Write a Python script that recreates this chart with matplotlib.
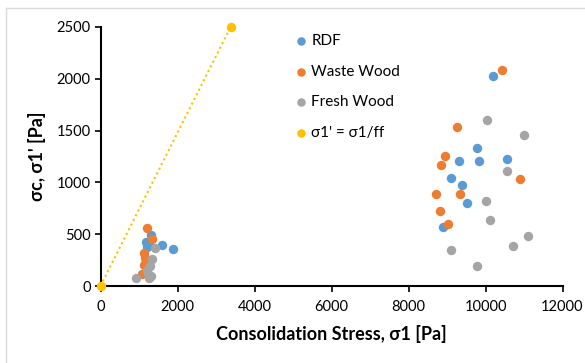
import matplotlib
matplotlib.use("Agg")
import matplotlib.pyplot as plt
from matplotlib.lines import Line2D

plt.rcParams['font.family'] = ['Lato', 'DejaVu Sans']

# Consolidation stress (x) and unconfined yield strength (y), in Pa
rdf_x = [1180, 1320, 1600, 1880, 1220, 1250,
         10206, 9780, 9315, 9819, 10546, 9092, 9402, 9509, 8898]
rdf_y = [420, 497, 395, 356, 375, 400,
         2024, 1335, 1203, 1207, 1229, 1042, 972, 804, 573]

waste_x = [1200, 1350, 1140, 1160, 1180, 1070, 1120,
           10430, 9247, 8946, 8840, 10885, 8723, 9334, 8830, 9034]
waste_y = [560, 457, 318, 272, 235, 113, 200,
           2082, 1538, 1252, 1171, 1030, 891, 891, 724, 595]

fresh_x = [930, 1270, 1200, 1290, 1350, 1410, 1230, 1300, 1250,
           10051, 11011, 10565, 10022, 10119, 11108, 10720, 9111, 9780]
fresh_y = [78, 92, 150, 190, 265, 362, 120, 100, 80,
           1602, 1454, 1107, 820, 637, 479, 383, 344, 193]

# Flow-function reference line sigma1' = sigma1/ff
ff_x = [0, 3380]
ff_y = [0, 2500]

x_ticks = [0, 2000, 4000, 6000, 8000, 10000, 12000]
y_ticks = [0, 500, 1000, 1500, 2000, 2500]

c_rdf = '#5B9BD5'
c_waste = '#ED7D31'
c_fresh = '#A5A5A5'
c_ff = '#FFC000'

fig = plt.figure(figsize=(5.85, 3.63), dpi=100)
ax = fig.add_axes([100.5 / 585, 77 / 363, 462 / 585, 259 / 363])

# chart frame
fig.add_artist(Line2D([6 / 585, 6 / 585], [0, 1 - 8 / 363],
                      transform=fig.transFigure, color='#D9D9D9', lw=1))
fig.add_artist(Line2D([6 / 585, 1], [1 - 8 / 363, 1 - 8 / 363],
                      transform=fig.transFigure, color='#D9D9D9', lw=1))

ms = 46
ax.scatter(rdf_x, rdf_y, s=ms, color=c_rdf, label='RDF', zorder=3, linewidths=0)
ax.scatter(waste_x, waste_y, s=ms, color=c_waste, label='Waste Wood', zorder=3, linewidths=0)
ax.scatter(fresh_x, fresh_y, s=ms, color=c_fresh, label='Fresh Wood', zorder=3, linewidths=0)
ax.plot(ff_x, ff_y, linestyle=(0, (1, 1.5)), color=c_ff, lw=1.5, zorder=2)
ax.scatter(ff_x, ff_y, s=ms, color=c_ff, label="σ1' = σ1/ff", zorder=4,
           linewidths=0, clip_on=False)

ax.set_xlim(0, 12000)
ax.set_ylim(0, 2500)
ax.set_xticks(x_ticks)
ax.set_yticks(y_ticks)
ax.tick_params(axis='both', direction='out', length=4, width=1.2,
               labelsize=10.5, colors='black', pad=3)
ax.tick_params(axis='x', pad=6)

for side in ('top', 'right'):
    ax.spines[side].set_visible(False)
for side in ('left', 'bottom'):
    ax.spines[side].set_linewidth(1.5)
    ax.spines[side].set_color('black')

ax.set_xlabel('Consolidation Stress, σ1 [Pa]', fontsize=13,
              fontweight='bold', labelpad=8)
ax.set_ylabel("σc, σ1' [Pa]", fontsize=13, fontweight='bold', labelpad=8)

leg = ax.legend(loc='upper left', bbox_to_anchor=(0.40, 0.995), frameon=False,
                fontsize=11, handletextpad=0.1, labelspacing=1.08,
                handlelength=1.2, markerscale=0.9, borderaxespad=0)

fig.savefig('out.png', dpi=100)
